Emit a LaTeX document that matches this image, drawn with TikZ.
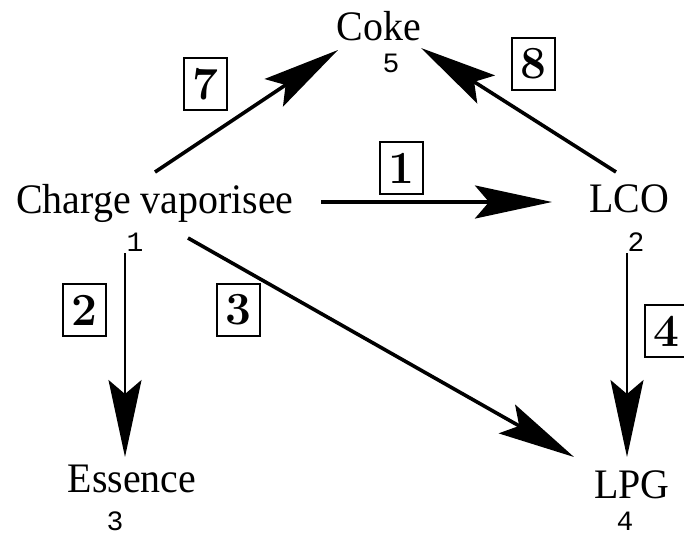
\documentclass[tikz,border=0pt]{standalone}
\usepackage{fontspec}
\newfontfamily\labelfont[FakeStretch=0.95]{Liberation Serif}
\newfontfamily\numfont{Liberation Mono}
\usetikzlibrary{arrows.meta}

\tikzset{
  species/.style={inner sep=0pt, anchor=base,
    font=\labelfont\fontsize{42}{48}\selectfont},
  index/.style={inner sep=0pt, anchor=base,
    font=\numfont\fontsize{28}{32}\selectfont},
  reaction/.style={draw, line width=2pt, inner sep=0pt,
    minimum width=43pt, minimum height=52pt,
    font=\bfseries\fontsize{46}{50}\selectfont},
  thickarrow/.style={line width=3.6pt,
    -{Stealth[length=77pt,width=33pt,inset=14pt]}},
  thinarrow/.style={line width=2pt,
    -{Stealth[length=77pt,width=33pt,inset=14pt]}}
}

\begin{document}
\begin{tikzpicture}[x=1pt,y=1pt]
\useasboundingbox (0,0) rectangle (684,-539);

% species
\node[species] (charge)  at (155,-213) {Charge vaporisee};
\node[species] (lco)     at (629,-212) {LCO};
\node[species] (coke)    at (379,-40)  {Coke};
\node[species] (essence) at (132,-492) {Essence};
\node[species] (lpg)     at (632,-498) {LPG};

% species indices
\node[index] (i1) at (135,-251) {1};
\node[index] (i2) at (636,-251) {2};
\node[index] (i5) at (391,-72)  {5};
\node[index] (i3) at (115,-530) {3};
\node[index] (i4) at (625,-530) {4};

% reaction paths
\draw[thickarrow] ([shift={(166,11)}]charge.base) -- ([shift={(-77,10)}]lco.base);
\draw[thickarrow] ([shift={(0,41)}]charge.base) -- ([shift={(-41,-10)}]coke.base);
\draw[thickarrow] ([shift={(-13,40)}]lco.base) -- ([shift={(42,-8)}]coke.base);
\draw[thinarrow]  ([shift={(-30,-40)}]charge.base) -- ([shift={(-7,35)}]essence.base);
\draw[thickarrow] ([shift={(33,-25)}]charge.base) -- ([shift={(-58,41)}]lpg.base);
\draw[thinarrow]  ([shift={(-2,-41)}]lco.base) -- ([shift={(-5,41)}]lpg.base);

% reaction numbers
\node[reaction] (r1) at (401,-168) {1};
\node[reaction] (r7) at (205,-84)  {7};
\node[reaction] (r8) at (533,-64)  {8};
\node[reaction] (r2) at (84,-310)  {2};
\node[reaction] (r3) at (238,-310) {3};
\node[reaction] (r4) at (666,-331) {4};
\end{tikzpicture}
\end{document}
